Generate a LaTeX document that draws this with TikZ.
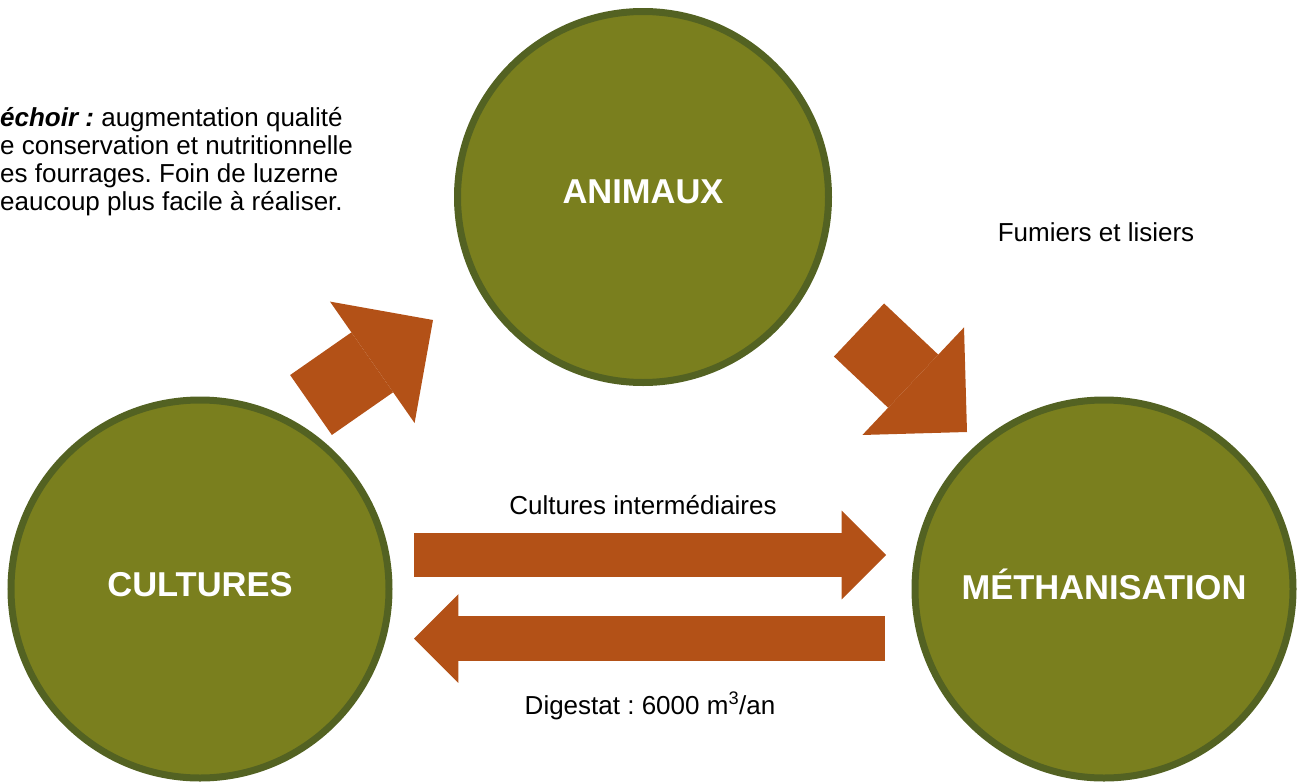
\documentclass[tikz,border=0pt]{standalone}
\usepackage{fontspec}
\setmainfont{Liberation Sans}
\usepackage{tikz}
\usetikzlibrary{arrows.meta}
\frenchspacing

\definecolor{olivefill}{RGB}{122,127,30}
\definecolor{oliveline}{RGB}{83,98,34}
\definecolor{rust}{RGB}{179,81,23}

\tikzset{
  pole/.style={circle, draw=oliveline, fill=olivefill, line width=7pt, text=white, text depth=10pt, font=\fontsize{34.5}{40}\selectfont\bfseries},
  fatarrow/.style={draw=rust, line width=73pt, -{Triangle[length=74pt 0 0, width=148pt 0 0, line width=0pt 0 0, fill=rust]}},
  flatarrow/.style={draw=rust, line width=44.5pt, -{Triangle[length=44.3pt 0 0, width=88.6pt 0 0, line width=0pt 0 0, fill=rust]}},
  note/.style={font=\fontsize{26}{30}\selectfont, inner sep=0pt}
}

\begin{document}
\begin{tikzpicture}[x=1pt,y=-1pt]
\useasboundingbox (0,0) rectangle (1299,782);

\node [pole, minimum size=371pt] (animaux) at (643,197) {ANIMAUX};
\node [pole, minimum size=378pt] (cultures) at (200,589) {CULTURES};
\node [pole, minimum size=378pt] (methan) at (1104,589) {MÉTHANISATION};

\coordinate (c2a) at (311,405); \coordinate (a-in) at (433,320);
\coordinate (a2m) at (859,330); \coordinate (m-in) at (967,432);
\coordinate (c2m) at (414,555); \coordinate (m-top) at (886,555);
\coordinate (m2c) at (885,638.5); \coordinate (c-in) at (414,638.5);

\draw [fatarrow] (c2a) -- (a-in);
\draw [fatarrow] (a2m) -- (m-in);
\draw [flatarrow] (c2m) -- (m-top);
\draw [flatarrow] (m2c) -- (c-in);

\node [note, anchor=base west] (sech1) at (0,126) {\textbf{\textit{échoir :}} augmentation qualité};
\node [note, anchor=base west] (sech2) at (0,154.2) {e conservation et nutritionnelle};
\node [note, anchor=base west] (sech3) at (0,182.4) {es fourrages. Foin de luzerne};
\node [note, anchor=base west] (sech4) at (0,210.6) {eaucoup plus facile à réaliser.};

\node [note, anchor=base] (fumiers) at (1096,241) {Fumiers et lisiers};
\node [note, anchor=base] (interm) at (643,514) {Cultures intermédiaires};
\node [note, anchor=base] (digestat) at (650,714) {Digestat : 6000 m\textsuperscript{3}/an};

\end{tikzpicture}
\end{document}
